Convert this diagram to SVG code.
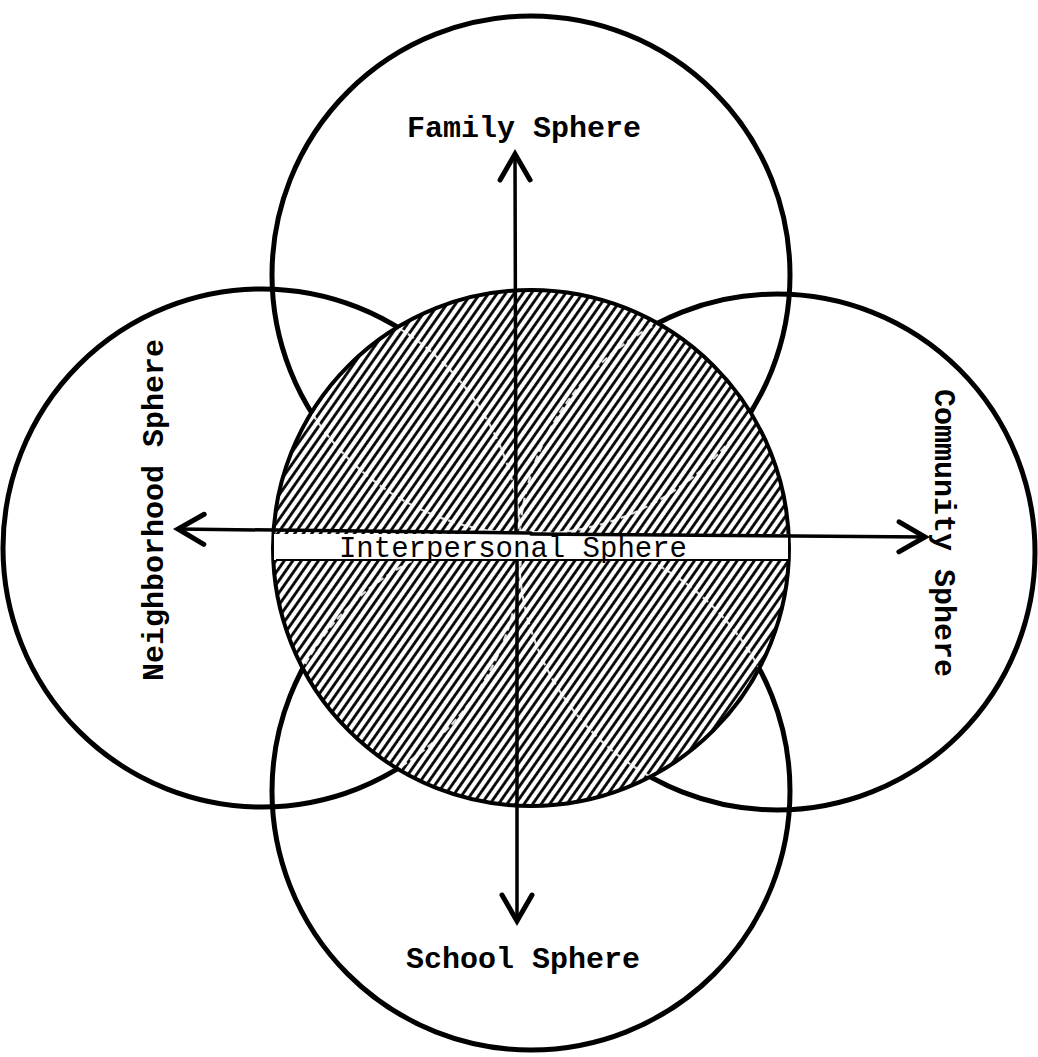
<svg xmlns="http://www.w3.org/2000/svg" width="1038" height="1057" viewBox="0 0 1038 1057">
  <style>
    .sphere { fill: none; stroke: #000; stroke-width: 5; }
    .ghost { fill: none; stroke: #fff; stroke-width: 2.2; stroke-dasharray: 7 4; opacity: 0.85; }
    .label { font-family: "Liberation Mono", "Courier New", monospace; font-weight: bold; font-size: 30px; fill: #000; }
    .inner { font-family: "Liberation Mono", "Courier New", monospace; font-size: 29px; fill: #000; }
    .conn { fill: none; stroke: #000; stroke-width: 3.5; stroke-linecap: round; }
  </style>
  <defs>
    <pattern id="hatch" width="7" height="7" patternUnits="userSpaceOnUse" patternTransform="rotate(35)">
      <rect width="7" height="7" fill="#fff"/>
      <line x1="1.5" y1="0" x2="1.5" y2="7" stroke="#000" stroke-width="2.8"/>
    </pattern>
    <clipPath id="innerClip">
      <circle cx="531" cy="548" r="256"/>
    </clipPath>
    <marker id="vhead" markerWidth="40" markerHeight="40" refX="30" refY="20" orient="auto" markerUnits="userSpaceOnUse">
      <polyline points="4,5 30,20 4,35" fill="none" stroke="#000" stroke-width="5" stroke-linecap="round" stroke-linejoin="miter"/>
    </marker>
  </defs>
  <rect width="1038" height="1057" fill="#fff"/>

  <g id="family-sphere">
    <circle class="sphere" cx="531" cy="275" r="259"/>
    <text class="label" x="524" y="137" text-anchor="middle">Family Sphere</text>
  </g>
  <g id="school-sphere">
    <circle class="sphere" cx="531" cy="791" r="259"/>
    <text class="label" x="523" y="968" text-anchor="middle">School Sphere</text>
  </g>
  <g id="neighborhood-sphere">
    <circle class="sphere" cx="262" cy="548" r="259"/>
    <text class="label" transform="translate(163,510) rotate(-90)" text-anchor="middle">Neighborhood Sphere</text>
  </g>
  <g id="community-sphere">
    <circle class="sphere" cx="777" cy="552" r="258"/>
    <text class="label" transform="translate(935,533) rotate(90)" text-anchor="middle">Community Sphere</text>
  </g>

  <g id="interpersonal-sphere">
    <circle cx="531" cy="548" r="258" fill="url(#hatch)" stroke="#000" stroke-width="4"/>
    <g clip-path="url(#innerClip)">
      <circle class="ghost" cx="531" cy="275" r="259"/>
      <circle class="ghost" cx="531" cy="791" r="259"/>
      <circle class="ghost" cx="262" cy="548" r="259"/>
      <circle class="ghost" cx="777" cy="552" r="258"/>
    </g>
    <rect x="274" y="534" width="514" height="26" fill="#fff"/>
    <line x1="276" y1="560" x2="788" y2="560" stroke="#000" stroke-width="2"/>
    <text class="inner" x="513" y="557" text-anchor="middle">Interpersonal Sphere</text>
  </g>

  <g id="connectors">
    <path class="conn" d="M 516 532 L 515 154" marker-end="url(#vhead)"/>
    <path class="conn" d="M 517 561 L 517 921" marker-end="url(#vhead)"/>
    <path class="conn" d="M 531 533 L 178 529" marker-end="url(#vhead)"/>
    <path class="conn" d="M 531 534 L 925 537" marker-end="url(#vhead)"/>
  </g>
</svg>
